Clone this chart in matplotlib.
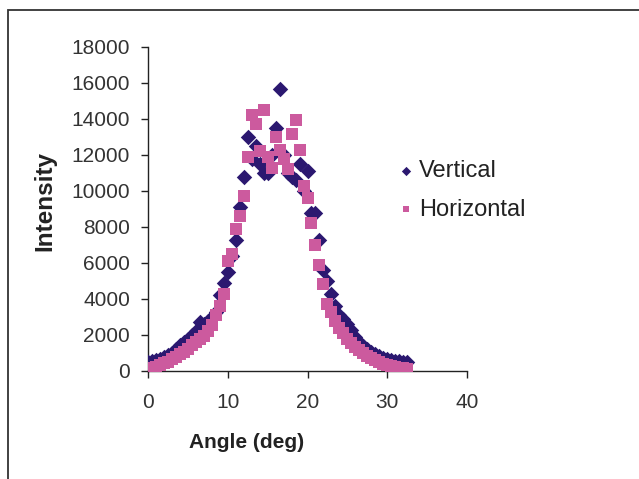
import matplotlib
matplotlib.use("Agg")
import matplotlib.pyplot as plt
from matplotlib.patches import Rectangle

plt.rcParams['font.family'] = ['Liberation Sans', 'DejaVu Sans']

# ---- data ----
angle = [0.0, 0.5, 1.0, 1.5, 2.0, 2.5, 3.0, 3.5, 4.0, 4.5, 5.0, 5.5, 6.0, 6.5, 7.0, 7.5,
         8.0, 8.5, 9.0, 9.5, 10.0, 10.5, 11.0, 11.5, 12.0, 12.5, 13.0, 13.5, 14.0, 14.5,
         15.0, 15.5, 16.0, 16.5, 17.0, 17.5, 18.0, 18.5, 19.0, 19.5, 20.0, 20.5, 21.0,
         21.5, 22.0, 22.5, 23.0, 23.5, 24.0, 24.5, 25.0, 25.5, 26.0, 26.5, 27.0, 27.5,
         28.0, 28.5, 29.0, 29.5, 30.0, 30.5, 31.0, 31.5, 32.0, 32.5]

vertical = [500, 580, 620, 680, 760, 880, 1020, 1250, 1450, 1600, 1800, 2000, 2200, 2750,
            2600, 2800, 3000, 3300, 4200, 4900, 5500, 6400, 7300, 9100, 10800, 13000,
            11800, 12500, 11500, 11000, 11000, 12000, 13500, 15650, 12000, 11000, 10800,
            10600, 11500, 10000, 11100, 8800, 8800, 7300, 5600, 5000, 4300, 3600, 3100,
            2900, 2600, 2300, 1900, 1600, 1400, 1200, 1070, 950, 830, 750, 680, 620, 580,
            540, 520, 500]

horizontal = [100, 180, 250, 330, 420, 520, 640, 780, 920, 1080, 1250, 1420, 1600, 1780,
              1950, 2200, 2550, 3100, 3600, 4300, 6100, 6500, 7900, 8600, 9700, 11900,
              14200, 13700, 12200, 14500, 11900, 11300, 13000, 12300, 11800, 11200, 13150,
              13950, 12300, 10300, 9600, 8200, 7000, 5900, 4850, 3700, 3300, 2800, 2400,
              2100, 1800, 1550, 1350, 1150, 1000, 850, 720, 600, 500, 410, 330, 260, 200,
              170, 150, 130]

x_ticks = [0, 10, 20, 30, 40]
y_ticks = [0, 2000, 4000, 6000, 8000, 10000, 12000, 14000, 16000, 18000]

W, H = 639, 479
fig = plt.figure(figsize=(W / 100, H / 100), dpi=100)
fig.patch.set_facecolor('white')

# outer frame
fig.add_artist(Rectangle((8 / W, -0.1), 1.2, 1 - 10 / H + 0.1, transform=fig.transFigure,
                         fill=False, edgecolor='#333333', linewidth=1.3))

ax = fig.add_axes([148 / W, 108 / H, 319 / W, 324 / H])
ax.scatter(angle, vertical, marker='D', s=62, color='#2b1870', linewidths=0,
           label='Vertical', zorder=3)
ax.scatter(angle, horizontal, marker='s', s=68, color='#cc5a9e', linewidths=0,
           label='Horizontal', zorder=4)

ax.set_xlim(0, 40)
ax.set_ylim(0, 18000)
ax.set_xticks(x_ticks)
ax.set_yticks(y_ticks)
ax.spines['top'].set_visible(False)
ax.spines['right'].set_visible(False)
for s in ('left', 'bottom'):
    ax.spines[s].set_color('#222222')
    ax.spines[s].set_linewidth(1.0)
ax.tick_params(axis='both', direction='out', length=5, width=1.0, color='#222222',
               labelsize=15, labelcolor='#333333')
ax.tick_params(axis='y', pad=8)
ax.tick_params(axis='x', pad=11)

fig.text(247 / W, 1 - 443 / H, 'Angle (deg)', ha='center', va='center',
         fontsize=15, fontweight='bold', color='#222222')
fig.text(45 / W, 1 - 201 / H, 'Intensity', ha='center', va='center', rotation=90,
         fontsize=17.5, fontweight='bold', color='#222222')

leg = fig.legend(loc='upper left', bbox_to_anchor=(399 / W, 1 - 160 / H),
                 frameon=False, fontsize=17, handlelength=0.6, handletextpad=0.25,
                 labelspacing=0.7, borderpad=0, borderaxespad=0, markerscale=0.6)
for t in leg.get_texts():
    t.set_color('#222222')

fig.savefig('out.png', dpi=100)
